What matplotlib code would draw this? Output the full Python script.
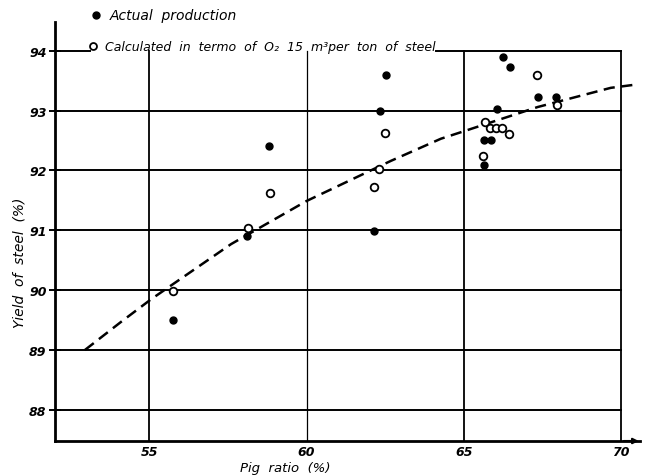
import matplotlib
matplotlib.use("Agg")
import matplotlib.pyplot as plt

# values
actual_x = [55.76, 58.11, 58.81, 62.14, 62.33, 62.52, 65.63, 65.63, 65.86, 66.05, 66.25, 66.46, 67.35, 67.92]
actual_y = [89.50, 90.91, 92.41, 90.99, 93.00, 93.60, 92.09, 92.51, 92.51, 93.03, 93.90, 93.72, 93.23, 93.23]

calc_x = [55.76, 58.14, 58.84, 62.14, 62.30, 62.50, 65.60, 65.67, 65.83, 66.02, 66.21, 66.43, 67.32, 67.95]
calc_y = [89.99, 91.04, 91.63, 91.73, 92.03, 92.63, 92.24, 92.81, 92.71, 92.71, 92.71, 92.61, 93.60, 93.10]

curve_x = [52.95, 54.10, 55.06, 57.60, 59.10, 60.00, 62.68, 64.27, 65.03, 67.35, 69.67, 70.55]
curve_y = [89.00, 89.47, 89.85, 90.77, 91.22, 91.49, 92.16, 92.53, 92.66, 93.06, 93.38, 93.44]

x_ticks = [55, 60, 65, 70]
y_ticks = [88, 89, 90, 91, 92, 93, 94]

W, H = 647, 477

fig = plt.figure(figsize=(W / 100, H / 100), dpi=100)
ax = fig.add_axes([55 / W, 1 - 442 / H, (640 - 55) / W, (442 - 23) / H])
ax.set_xlim(52, 70.6)
ax.set_ylim(87.48, 94.48)

for s in ["top", "right"]:
    ax.spines[s].set_visible(False)
for s in ["left", "bottom"]:
    ax.spines[s].set_linewidth(2)

# grid, drawn by hand so the frame stops at 70 / 94
for y in y_ticks[:-1]:
    ax.plot([52, 70], [y, y], color="black", lw=1.4, zorder=1)
ax.plot([52, 53.1], [94, 94], color="black", lw=1.4, zorder=1)
ax.plot([64.1, 70], [94, 94], color="black", lw=1.4, zorder=1)
for x in x_ticks:
    lw = 0.9 if x == 60 else 1.3
    ax.plot([x, x], [87.48, 94], color="black", lw=lw, zorder=1)

# arrow at the end of the x axis
ax.annotate("", xy=(70.65, 87.48), xytext=(70.0, 87.48),
            arrowprops=dict(arrowstyle="-|>", color="black", lw=1.5, mutation_scale=8),
            annotation_clip=False)

ax.plot(curve_x, curve_y, color="black", lw=1.8, dashes=(4.5, 2.6), zorder=2)
ax.plot(actual_x, actual_y, "o", color="black", ms=5, zorder=3)
ax.plot(calc_x, calc_y, "o", mfc="white", mec="black", mew=1.3, ms=5.5, zorder=3)

ax.set_xticks(x_ticks)
ax.set_yticks(y_ticks)
ax.tick_params(axis="x", length=0, pad=3, labelsize=9)
ax.tick_params(axis="y", direction="inout", length=8, width=1.4, pad=2, labelsize=9)
for lab in ax.get_xticklabels() + ax.get_yticklabels():
    lab.set_fontstyle("italic")
    lab.set_fontweight("bold")

fig.text(285 / W, 1 - 469 / H, "Pig  ratio  (%)", ha="center", va="center",
         style="italic", fontsize=9.5)
fig.text(20 / W, 1 - 263 / H, "Yield  of  steel  (%)", ha="center", va="center",
         rotation=90, style="italic", fontsize=10)

# legend as drawn on the original
fig.lines.append(plt.Line2D([96 / W], [1 - 16 / H], marker="o", color="black", ms=5,
                            transform=fig.transFigure))
fig.text(110 / W, 1 - 16 / H, "Actual  production", ha="left", va="center",
         style="italic", fontsize=10)
fig.lines.append(plt.Line2D([93 / W], [1 - 47 / H], marker="o", mfc="white", mec="black",
                            mew=1.3, ms=5, transform=fig.transFigure))
fig.text(105 / W, 1 - 47 / H, "Calculated  in  termo  of  O₂  15  m³per  ton  of  steel",
         ha="left", va="center", style="italic", fontsize=9)

fig.savefig("out.png", dpi=100)
